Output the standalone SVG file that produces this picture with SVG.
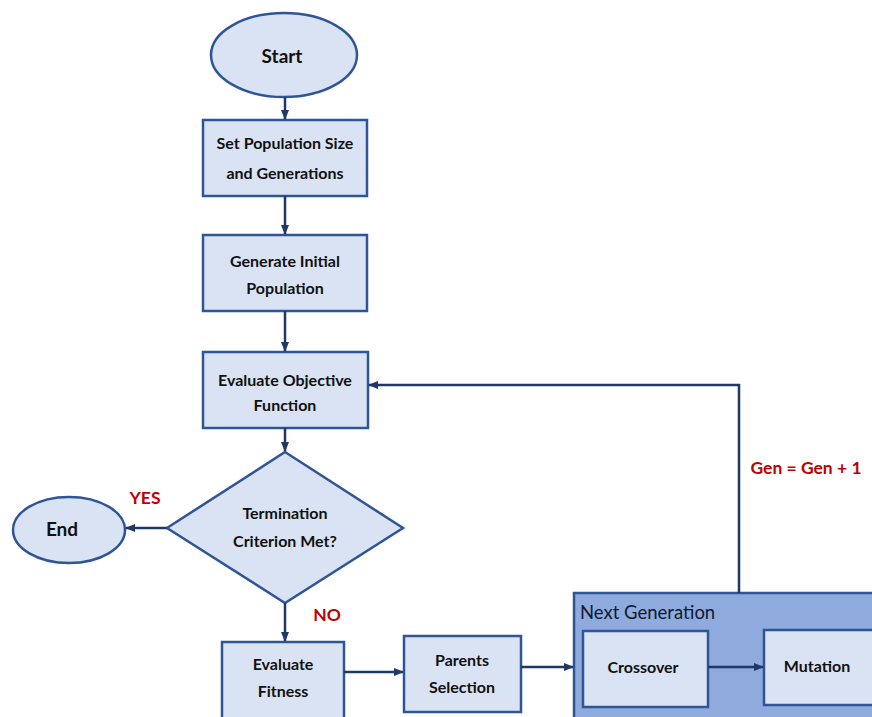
<svg xmlns="http://www.w3.org/2000/svg" width="872" height="717" viewBox="0 0 872 717">
<defs>
<marker id="ah" viewBox="0 0 10 10" refX="9" refY="5" markerWidth="4" markerHeight="4" orient="auto-start-reverse" markerUnits="strokeWidth">
<path d="M0,1 L10,5 L0,9 z" fill="#1f3864"/>
</marker>
<style>
.n{fill:#dae3f3;stroke:#2f5597;stroke-width:2.5}
.t{font-family:Lato,"Open Sans",sans-serif;font-weight:bold;font-size:16px;fill:#111;text-anchor:middle;dominant-baseline:central}
.big{font-size:19px}
.c{fill:none;stroke:#1f3864;stroke-width:2.5;marker-end:url(#ah)}
.r{font-family:Lato,"Open Sans",sans-serif;font-weight:bold;font-size:17.5px;fill:#c00000;text-anchor:middle;dominant-baseline:central}
</style>
</defs>
<rect width="872" height="717" fill="#fff"/>
<g id="next-generation">
<rect x="574" y="593" width="310" height="140" fill="#8faadc" stroke="#2f5597" stroke-width="2.5"/>
<text x="580" y="612" font-family="Lato,'Open Sans',sans-serif" font-size="18.5" fill="#0d1a33" dominant-baseline="central">Next Generation</text>
</g>
<g id="start"><ellipse class="n" cx="284" cy="55" rx="73" ry="42"/><text class="t big" x="282" y="55">Start</text></g>
<g id="set-pop"><rect class="n" x="203" y="120" width="164" height="76"/><text class="t" x="285" y="142">Set Population Size</text><text class="t" x="285" y="172">and Generations</text></g>
<g id="gen-init"><rect class="n" x="203" y="235" width="164" height="76"/><text class="t" x="285" y="260">Generate Initial</text><text class="t" x="285" y="287">Population</text></g>
<g id="eval-obj"><rect class="n" x="203" y="352" width="165" height="76"/><text class="t" x="285" y="379">Evaluate Objective</text><text class="t" x="285" y="404">Function</text></g>
<g id="termination"><polygon class="n" points="285,452 403,528 285,603 167,528"/><text class="t" x="285" y="512">Termination</text><text class="t" x="285" y="540">Criterion Met?</text></g>
<g id="end"><ellipse class="n" cx="69" cy="530" rx="56" ry="33"/><text class="t big" x="62" y="528">End</text></g>
<g id="eval-fit"><rect class="n" x="222" y="642" width="122" height="90"/><text class="t" x="283" y="663">Evaluate</text><text class="t" x="283" y="690">Fitness</text></g>
<g id="parents"><rect class="n" x="404" y="636" width="117" height="76"/><text class="t" x="462" y="659">Parents</text><text class="t" x="462" y="686">Selection</text></g>
<g id="crossover"><rect class="n" x="583" y="631" width="125" height="76"/><text class="t" x="643" y="666">Crossover</text></g>
<g id="mutation"><rect class="n" x="764" y="630" width="115" height="75"/><text class="t" x="817" y="665">Mutation</text></g>
<g id="connectors">
<line class="c" x1="285" y1="97" x2="285" y2="119"/>
<line class="c" x1="285" y1="196" x2="285" y2="234"/>
<line class="c" x1="285" y1="311" x2="285" y2="351"/>
<line class="c" x1="285" y1="428" x2="285" y2="451"/>
<line class="c" x1="167" y1="528" x2="126" y2="528"/>
<line class="c" x1="285" y1="603" x2="285" y2="641"/>
<line class="c" x1="344" y1="672" x2="403" y2="672"/>
<line class="c" x1="521" y1="667" x2="573" y2="667"/>
<line class="c" x1="708" y1="667" x2="763" y2="667"/>
<polyline class="c" points="739,593 739,385 369,385"/>
</g>
<g id="labels">
<text class="r" x="145" y="497">YES</text>
<text class="r" x="327" y="614">NO</text>
<text class="r" x="806" y="467">Gen = Gen + 1</text>
</g>
</svg>
